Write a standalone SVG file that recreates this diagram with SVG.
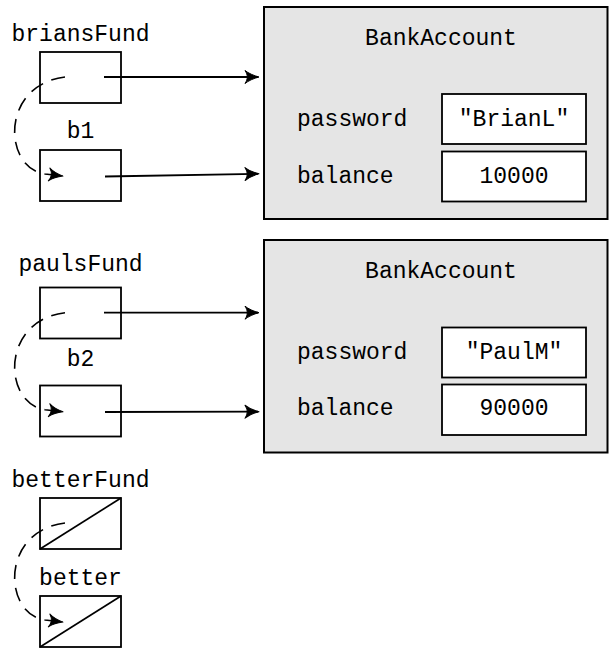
<svg xmlns="http://www.w3.org/2000/svg" width="609" height="650" viewBox="0 0 609 650">
<style>
text{font-family:"Liberation Mono","DejaVu Sans Mono",monospace;font-size:23px;fill:#000}
.mid{text-anchor:middle}
.var{fill:#fff;stroke:#000;stroke-width:1.8}
.obj{fill:#e5e5e5;stroke:#000;stroke-width:2}
.fld{fill:#fff;stroke:#000;stroke-width:1.8}
.null{stroke:#000;stroke-width:1.7}
.ref{fill:none;stroke:#000;stroke-width:1.8;marker-end:url(#ah)}
.alias{fill:none;stroke:#000;stroke-width:1.6;stroke-dasharray:14 9;marker-end:url(#ah)}
</style>
<defs>
<marker id="ah" markerUnits="userSpaceOnUse" markerWidth="20" markerHeight="16" refX="0" refY="0" viewBox="-17 -8 20 16" orient="auto" overflow="visible">
<path d="M1,0 C-4,-1.2 -10,-4 -13,-6.5 C-10,-2.2 -10,2.2 -13,6.5 C-10,4 -4,1.2 1,0 Z" fill="#000" stroke="#000" stroke-width="1" stroke-linejoin="round"/>
</marker>
</defs>

<g id="obj1">
<rect class="obj" x="264" y="7" width="343.5" height="212"/>
<text class="mid" x="441" y="45">BankAccount</text>
<text x="297" y="126">password</text>
<text x="297" y="183">balance</text>
<rect class="fld" x="442" y="94" width="144" height="50"/>
<text class="mid" x="514" y="126">"BrianL"</text>
<rect class="fld" x="442" y="151.5" width="144" height="50"/>
<text class="mid" x="514" y="183">10000</text>
</g>

<g id="obj2">
<rect class="obj" x="264" y="240" width="343.5" height="212.5"/>
<text class="mid" x="441" y="278">BankAccount</text>
<text x="297" y="359">password</text>
<text x="297" y="415">balance</text>
<rect class="fld" x="442" y="327.5" width="144" height="50"/>
<text class="mid" x="514" y="359">"PaulM"</text>
<rect class="fld" x="442" y="384.5" width="144" height="50.5"/>
<text class="mid" x="514" y="415">90000</text>
</g>

<g id="briansFund">
<text class="mid" x="80.5" y="41">briansFund</text>
<rect class="var" x="40" y="52" width="81" height="51"/>
</g>
<g id="b1">
<text class="mid" x="80.5" y="138">b1</text>
<rect class="var" x="40" y="150" width="81" height="51"/>
</g>
<g id="paulsFund">
<text class="mid" x="80.5" y="271">paulsFund</text>
<rect class="var" x="40" y="287.5" width="81" height="51"/>
</g>
<g id="b2">
<text class="mid" x="80.5" y="366">b2</text>
<rect class="var" x="40" y="385.5" width="81" height="51"/>
</g>
<g id="betterFund">
<text class="mid" x="80.5" y="487">betterFund</text>
<rect class="var" x="40" y="498" width="81" height="51"/>
<line class="null" x1="40" y1="549" x2="121" y2="498"/>
</g>
<g id="better">
<text class="mid" x="80.5" y="585">better</text>
<rect class="var" x="40" y="596" width="81" height="51"/>
<line class="null" x1="40" y1="647" x2="121" y2="596"/>
</g>

<g id="connectors">
<line class="ref" x1="104" y1="77" x2="258" y2="77"/>
<line class="ref" x1="105" y1="176.5" x2="258" y2="173.8"/>
<line class="ref" x1="104" y1="312.7" x2="258" y2="312.7"/>
<line class="ref" x1="105" y1="412" x2="258" y2="411.7"/>
<path class="alias" d="M65,77 C0,85 3,168 45,174 L62,176"/>
<path class="alias" d="M65,312.7 C0,320.7 3,403.7 45,409.7 L62,411.7"/>
<path class="alias" d="M65,523 C0,531 3,614 45,620 L62,622"/>
</g>
</svg>
